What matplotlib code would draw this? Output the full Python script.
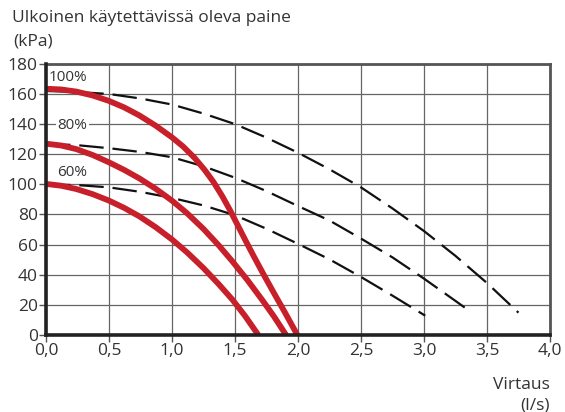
import numpy as np
import matplotlib.pyplot as plt

plt.rcParams['font.family'] = ['Open Sans', 'DejaVu Sans']

# pump curves (red) at 100 / 80 / 60 % speed
flow_100 = [0.0, 0.12, 0.24, 0.37, 0.5, 0.62, 0.74, 0.87, 1.0, 1.09, 1.18, 1.26, 1.33,
            1.4, 1.46, 1.5, 1.58, 1.65, 1.73, 1.81, 1.9, 1.995]
pres_100 = [163.5, 163.0, 161.6, 159.0, 155.4, 151.1, 145.8, 139.0, 131.2, 125.0, 117.5,
            109.5, 101.5, 92.0, 82.9, 76.4, 63.3, 52.1, 39.7, 27.7, 14.4, 0]
flow_80 = [0.0, 0.12, 0.24, 0.37, 0.5, 0.62, 0.74, 0.87, 1.0, 1.12, 1.25, 1.37, 1.48,
           1.6, 1.72, 1.81, 1.905]
pres_80 = [127, 125.8, 123.4, 119.5, 114.6, 109.6, 104.0, 97.1, 89.2, 80.8, 70.4, 59.6,
           48.8, 36.3, 22.8, 12.2, 0]
flow_60 = [0.0, 0.12, 0.24, 0.37, 0.5, 0.62, 0.74, 0.87, 1.0, 1.12, 1.25, 1.37, 1.48,
           1.58, 1.685]
pres_60 = [100.3, 99.1, 96.9, 93.5, 89.2, 84.4, 78.8, 71.6, 63.4, 54.8, 44.4, 33.8, 23.4,
           12.6, 0]

# dashed curves
dflow_100 = [0.0, 0.25, 0.5, 0.75, 1.0, 1.25, 1.5, 1.75, 2.0, 2.25, 2.5, 2.75, 3.0,
             3.25, 3.5, 3.75]
dpres_100 = [162, 161.3, 160, 157, 153, 147, 140, 131, 121, 110, 98, 84, 69,
             52.5, 34.5, 14.8]
dflow_80 = [0.0, 0.25, 0.5, 0.75, 1.0, 1.25, 1.5, 1.75, 2.0, 2.25, 2.5, 2.75, 3.0,
            3.25, 3.36]
dpres_80 = [127, 126, 124, 121.5, 118, 112, 104.4, 95.5, 85.6, 76, 64, 51.5, 37.4,
            22.6, 16]
dflow_60 = [0.0, 0.25, 0.5, 0.75, 1.0, 1.25, 1.5, 1.75, 2.0, 2.25, 2.5, 2.75, 3.0, 3.01]
dpres_60 = [100, 99.5, 98, 95, 91, 86, 79.5, 70.5, 60.5, 50.2, 38.5, 26.1, 13.3, 12.8]

speed_labels = ['100%', '80%', '60%']
label_x = [0.02, 0.09, 0.09]
label_y = [171, 139, 108]

x_ticks = np.arange(0, 4.01, 0.5)
y_ticks = np.arange(0, 181, 20)

red = '#c8202a'
txt = '#333333'

fig = plt.figure(figsize=(5.65, 4.12), dpi=100)
ax = fig.add_axes([0.0814, 0.187, 0.892, 0.658])

for fx, py in [(dflow_100, dpres_100), (dflow_80, dpres_80), (dflow_60, dpres_60)]:
    ax.plot(fx, py, color='#111111', lw=1.6, dashes=(11, 4), zorder=3)
for fx, py in [(flow_100, pres_100), (flow_80, pres_80), (flow_60, pres_60)]:
    ax.plot(fx, py, color=red, lw=4.2, solid_capstyle='butt', solid_joinstyle='round',
            zorder=4, clip_on=False)

for s, lx, ly in zip(speed_labels, label_x, label_y):
    ax.text(lx, ly, s, fontsize=11, color=txt, va='center', ha='left', zorder=5,
            bbox=dict(facecolor='white', edgecolor='none', pad=1))

ax.set_xlim(0, 4)
ax.set_ylim(0, 180)
ax.set_xticks(x_ticks)
ax.set_yticks(y_ticks)
ax.set_xticklabels([f'{v:.1f}'.replace('.', ',') for v in x_ticks])
ax.set_yticklabels([str(v) for v in y_ticks])
ax.grid(True, color='#666666', lw=0.9)
ax.set_axisbelow(True)
ax.tick_params(axis='both', colors='#555555', labelcolor=txt, labelsize=12.5,
               length=5, width=1, pad=1)

for side in ['left', 'bottom']:
    ax.spines[side].set_color('#222222')
    ax.spines[side].set_linewidth(2.6)
    ax.spines[side].set_zorder(6)
for side in ['top', 'right']:
    ax.spines[side].set_color('#555555')
    ax.spines[side].set_linewidth(2.0)

fig.text(12 / 565, 1 - 18 / 412, 'Ulkoinen käytettävissä oleva paine', fontsize=12.5,
         color=txt, va='center', ha='left')
fig.text(13 / 565, 1 - 42 / 412, '(kPa)', fontsize=12.5, color=txt, va='center', ha='left')
fig.text(550 / 565, 1 - 385 / 412, 'Virtaus', fontsize=12.5, color=txt, va='center', ha='right')
fig.text(550 / 565, 1 - 405 / 412, '(l/s)', fontsize=12.5, color=txt, va='center', ha='right')

fig.savefig('out.png', dpi=100)
